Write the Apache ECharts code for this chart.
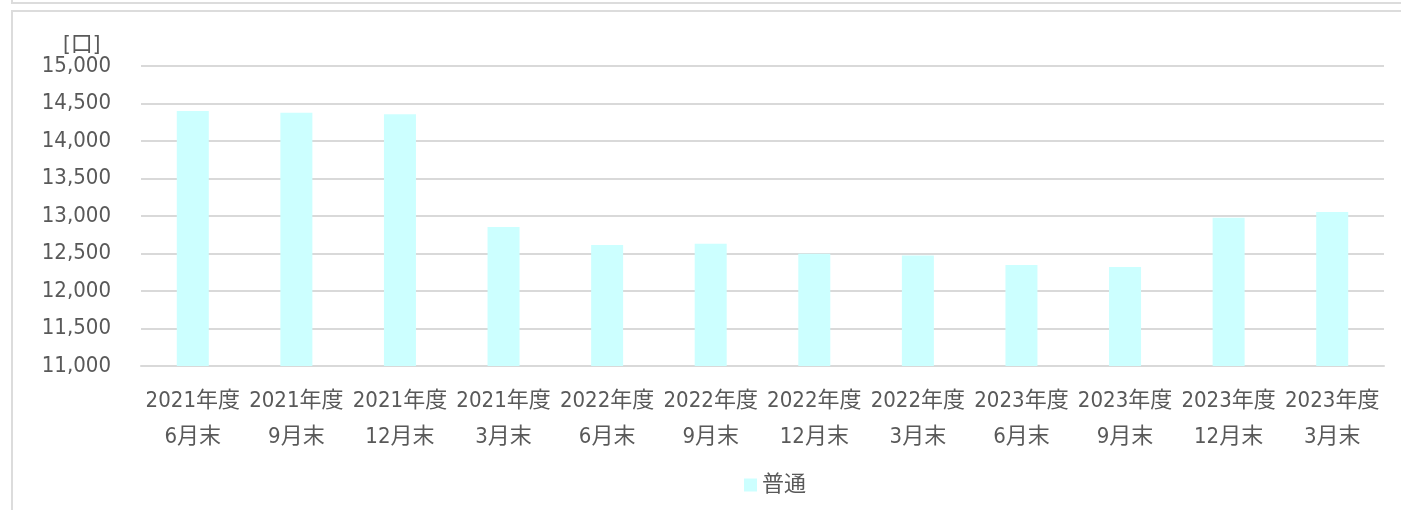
<!DOCTYPE html>
<html>
<head>
    <meta charset="utf-8">
    <title>普通</title>
    <script src="https://cdn.jsdelivr.net/npm/echarts@6.0.0/dist/echarts.min.js"></script>
    <style>
        body {
            margin: 0;
            padding: 0;
            background-color: #ffffff;
        }
        #chart {
            position: absolute;
            left: 0;
            top: 0;
            width: 1401px;
            height: 510px;
        }
        .frame {
            position: absolute;
            border: 2px solid #dcdcdc;
            pointer-events: none;
        }
    </style>
</head>
<body>
    <div id="chart"></div>
    <!-- 枠線 -->
    <div class="frame" style="left:11px; top:-20px; width:1400px; height:20px;"></div>
    <div class="frame" style="left:11px; top:10px; width:1400px; height:520px;"></div>

    <script>
        // データ
        var categories = [
            '2021年度\n6月末', '2021年度\n9月末', '2021年度\n12月末', '2021年度\n3月末',
            '2022年度\n6月末', '2022年度\n9月末', '2022年度\n12月末', '2022年度\n3月末',
            '2023年度\n6月末', '2023年度\n9月末', '2023年度\n12月末', '2023年度\n3月末'
        ];
        var seriesName = '普通';
        var values = [14400, 14378, 14356, 12855, 12612, 12630, 12496, 12473, 12347, 12320, 12977, 13053];
        var unitLabel = '[口]';

        var fontFamily = "'DejaVu Sans Condensed', 'Noto Sans CJK JP', sans-serif";
        var textColor = '#595959';

        var chartDom = document.getElementById('chart');
        var myChart = echarts.init(chartDom);

        var option = {
            animation: false,
            title: {
                text: unitLabel,
                left: 58,
                top: 29,
                textStyle: {
                    fontSize: 22,
                    fontWeight: 'normal',
                    color: textColor,
                    fontFamily: fontFamily
                }
            },
            legend: {
                data: [seriesName],
                left: 739,
                top: 469,
                icon: 'rect',
                itemWidth: 13,
                itemHeight: 13,
                itemGap: 6,
                textStyle: {
                    fontSize: 22,
                    color: textColor,
                    fontFamily: fontFamily
                }
            },
            grid: {
                left: 141,
                right: 17,
                top: 66,
                bottom: 144
            },
            xAxis: {
                type: 'category',
                data: categories,
                axisLine: { lineStyle: { color: '#d9d9d9', width: 2 } },
                axisTick: { show: false },
                axisLabel: {
                    interval: 0,
                    margin: 17,
                    lineHeight: 36,
                    fontSize: 22,
                    color: textColor,
                    fontFamily: fontFamily
                }
            },
            yAxis: {
                type: 'value',
                min: 11000,
                max: 15000,
                interval: 500,
                axisLine: { show: false },
                axisTick: { show: false },
                splitLine: { lineStyle: { color: '#d9d9d9', width: 2 } },
                axisLabel: {
                    margin: 30,
                    fontSize: 22,
                    color: textColor,
                    fontFamily: fontFamily,
                    formatter: function (v) {
                        return v.toLocaleString('en-US');
                    }
                }
            },
            series: [
                {
                    name: seriesName,
                    type: 'bar',
                    data: values,
                    barWidth: 32,
                    itemStyle: { color: '#ccffff' }
                }
            ]
        };

        myChart.setOption(option);
    </script>
</body>
</html>
